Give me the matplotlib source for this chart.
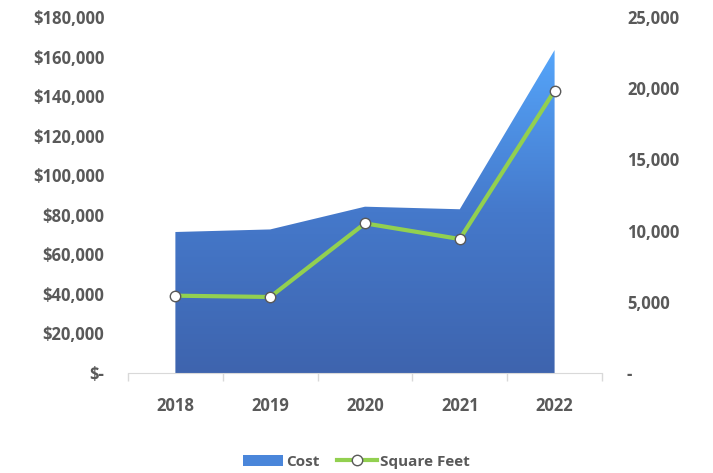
import matplotlib.pyplot as plt
import numpy as np
from matplotlib.colors import LinearSegmentedColormap
from matplotlib.lines import Line2D
from matplotlib.patches import Patch

years = ['2018', '2019', '2020', '2021', '2022']
cost = [71300, 72600, 84100, 82800, 163300]
square_feet = [5430, 5340, 10510, 9410, 19830]

plt.rcParams['font.family'] = ['Open Sans', 'DejaVu Sans']
text_color = '#595959'

fig = plt.figure(figsize=(7.13, 4.73), dpi=100)
ax = fig.add_axes([0.1795, 0.2114, 0.6648, 0.7526])
ax2 = ax.twinx()

x = np.arange(len(years))

# gradient area for cost
poly = ax.fill_between(x, 0, cost, color='none', lw=0)
cmap = LinearSegmentedColormap.from_list('blu', ['#3E64AE', '#4579CB', '#55A5FA'])
grad = np.linspace(0, 1, 256).reshape(-1, 1)
img = ax.imshow(grad, cmap=cmap, origin='lower', aspect='auto',
                extent=[x[0], x[-1], 0, max(cost)], zorder=1)
img.set_clip_path(poly.get_paths()[0], transform=ax.transData)

ax.set_xlim(-0.5, 4.5)
ax.set_ylim(0, 180000)
ax.set_yticks(np.arange(0, 180001, 20000))
ax.set_yticklabels(['$-'] + [f'${v:,.0f}' for v in np.arange(20000, 180001, 20000)])

ax2.plot(x, square_feet, color='#92D050', lw=3, marker='o', ms=7.5,
         mfc='white', mec='#595959', mew=1, zorder=5)
ax2.set_ylim(0, 25000)
ax2.set_yticks(np.arange(0, 25001, 5000))
ax2.set_yticklabels(['-'] + [f'{v:,.0f}' for v in np.arange(5000, 25001, 5000)])

ax.set_xticks(x)
ax.set_xticklabels(years)
ax.set_xticks(np.arange(-0.5, 4.6, 1), minor=True)
ax.tick_params(axis='x', which='major', length=0, pad=17)
ax.tick_params(axis='x', which='minor', length=6, color='#D9D9D9', width=1)

for a in (ax, ax2):
    for s in ['top', 'left', 'right', 'bottom']:
        a.spines[s].set_visible(False)
ax.spines['bottom'].set_visible(True)
ax.spines['bottom'].set_color('#D9D9D9')

ax.tick_params(axis='y', length=0, pad=17)
ax2.tick_params(axis='y', length=0, pad=18)
for lab in ax.get_xticklabels() + ax.get_yticklabels() + ax2.get_yticklabels():
    lab.set_color(text_color)
    lab.set_fontsize(12)
    lab.set_fontweight('bold')

handles = [Patch(facecolor='#4A86DA', edgecolor='none'),
           Line2D([0], [0], color='#92D050', lw=3, marker='o', ms=7.5,
                  mfc='white', mec='#595959', mew=1)]
leg = fig.legend(handles, ['Cost', 'Square Feet'], loc='lower center',
                 bbox_to_anchor=(0.5, -0.02), ncol=2, frameon=False,
                 handlelength=2.6, handletextpad=0.2, columnspacing=1.2,
                 prop={'size': 11, 'weight': 'bold'})
for t in leg.get_texts():
    t.set_color(text_color)

fig.savefig('out.png', dpi=100)
